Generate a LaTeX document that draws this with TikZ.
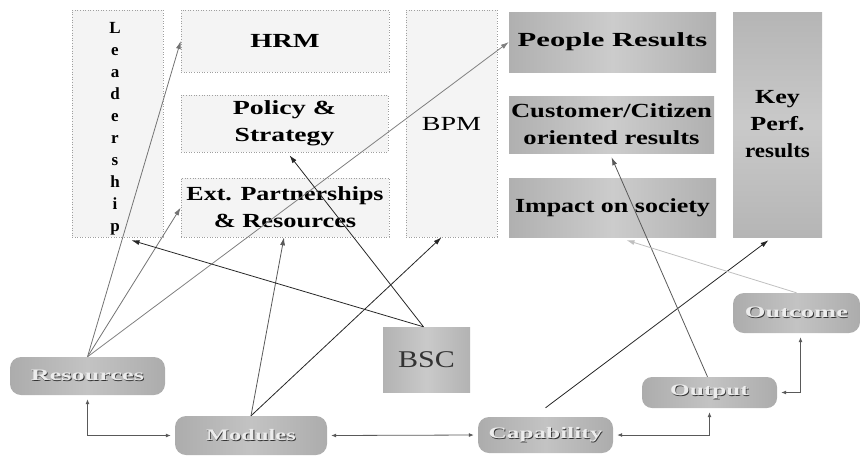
\documentclass[tikz,border=0pt]{standalone}
\usepackage{fontspec}
\setmainfont{Liberation Serif}
\usepackage{graphicx}
\usetikzlibrary{arrows.meta}

% horizontally widened text
\newcommand\wide[2][1.32]{\scalebox{#1}[1]{#2}}
% light lettering with a dark edge, as on the flow nodes
\newcommand\embossed[1]{\leavevmode\rlap{\raisebox{-0.8pt}{\hspace{0.8pt}\color{black!80}#1}}{\color{gray!15}#1}}

\tikzset{
  plainbox/.style={draw=gray!75, dotted, line width=0.6pt, fill=gray!9,
    inner sep=0pt, font=\bfseries\fontsize{20}{27}\selectfont, align=center},
  resultbox/.style={left color=gray!62, right color=gray!62, middle color=gray!40,
    inner sep=0pt, font=\bfseries\fontsize{20}{27}\selectfont, align=center},
  flownode/.style={rounded corners=11pt, left color=gray!65, right color=gray!65,
    middle color=gray!47, inner sep=0pt, font=\bfseries\fontsize{16}{18}\selectfont},
  link/.style={line width=0.8pt, -{Latex[length=8pt,width=5pt]}},
  flow/.style={line width=0.8pt, gray!70!black, {Latex[length=5pt,width=4pt]}-{Latex[length=5pt,width=4pt]}},
}

\begin{document}
\begin{tikzpicture}[x=1pt,y=-1pt]
\useasboundingbox (0,0) rectangle (861,456);

% enablers
\node[plainbox, minimum width=91pt, minimum height=227pt] (lead) at (117.5,123.5) {};
\node[font=\bfseries\fontsize{17}{22}\selectfont, align=center] (leadtxt) at (115,129)
  {L\\e\\a\\d\\e\\r\\s\\h\\i\\p};
\node[plainbox, minimum width=208pt, minimum height=62pt] (hrm) at (285,41) {\wide[1.42]{HRM}};
\node[plainbox, minimum width=207pt, minimum height=57pt] (pol) at (284.5,123.5)
  {\wide[1.4]{Policy \&}\\\wide[1.38]{Strategy}};
\node[plainbox, minimum width=208pt, minimum height=59pt] (ext) at (285,207.5)
  {\wide[1.3]{Ext. Partnerships}\\\wide{\& Resources}};
\node[plainbox, minimum width=91pt, minimum height=227pt, font=\fontsize{20}{24}\selectfont] (bpm) at (451.5,123.5)
  {\wide[1.4]{BPM}};

% results
\node[resultbox, minimum width=207pt, minimum height=60pt] (ppl) at (612.5,42)
  {\wide[1.53]{People Results}};
\node[resultbox, minimum width=205pt, minimum height=57pt] (cust) at (611.5,124.5)
  {\wide[1.33]{Customer/Citizen}\\\wide[1.33]{oriented results}};
\node[resultbox, minimum width=207pt, minimum height=59pt] (imp) at (612.5,207.5)
  {\wide[1.3]{Impact on society}};
\node[resultbox, minimum width=89pt, minimum height=225pt, top color=gray!58, bottom color=gray!58, middle color=gray!42] (kpr) at (777.5,124.5)
  {\wide[1.3]{Key}\\\wide[1.3]{Perf.}\\\wide[1.15]{results}};

% scorecard
\node[minimum width=87pt, minimum height=65pt, inner sep=0pt, left color=gray!60, right color=gray!60, middle color=gray!42,
  font=\fontsize{24}{26}\selectfont, text=black!80] (bsc) at (426.5,359.5) {\wide[1.25]{BSC}};

% flow nodes
\node[flownode, minimum width=155pt, minimum height=38pt] (res) at (87.5,376) {\embossed{\wide[1.64]{Resources}}};
\node[flownode, minimum width=152pt, minimum height=39pt] (mod) at (251,435.5) {\embossed{\wide[1.53]{Modules}}};
\node[flownode, minimum width=135pt, minimum height=36pt] (cap) at (545.5,435) {\embossed{\wide[1.58]{Capability}}};
\node[flownode, minimum width=135pt, minimum height=31pt, rounded corners=10pt] (out) at (709.5,392.5) {\embossed{\wide[1.58]{Output}}};
\node[flownode, minimum width=127pt, minimum height=40pt] (outc) at (796.5,313) {\embossed{\wide[1.66]{Outcome}}};

% links from the flow nodes up to the model
\draw[link, black!55] (res.north) -- (hrm.west);
\draw[link, black!55] (res.north) -- (ext.west);
\draw[link, black!50] (res.north) -- (ppl.west);
\draw[link, black!65] (mod.north) -- ([xshift=-1pt]ext.south);
\draw[link, black!85] (mod.north) -- ([xshift=-10pt]bpm.south);
\draw[link, black!85] ([xshift=-3pt]bsc.north) -- ([xshift=5pt,yshift=-3pt]pol.south);
\draw[link, black!85] ([xshift=-3pt]bsc.north) -- ([xshift=14pt,yshift=-3pt]lead.south);
\draw[link, black!85] ([yshift=9pt]cap.north) -- ([xshift=-9pt,yshift=-3pt]kpr.south);
\draw[link, black!65] ([xshift=-2pt]out.north) -- ([yshift=-4pt]cust.south);
\draw[link, gray!50] (outc.north) -- ([xshift=14pt,yshift=-3pt]imp.south);

% flow between the nodes along the bottom
\draw[flow] ([yshift=-4pt]res.south) |- ([xshift=-4pt]mod.west);
\draw[flow] ([xshift=4pt]mod.east) -- ([xshift=-4pt]cap.west);
\draw[flow] ([xshift=4pt]cap.east) -| ([yshift=-4pt]out.south);
\draw[flow] ([xshift=4pt]out.east) -| ([xshift=4pt,yshift=-4pt]outc.south);
\end{tikzpicture}
\end{document}
